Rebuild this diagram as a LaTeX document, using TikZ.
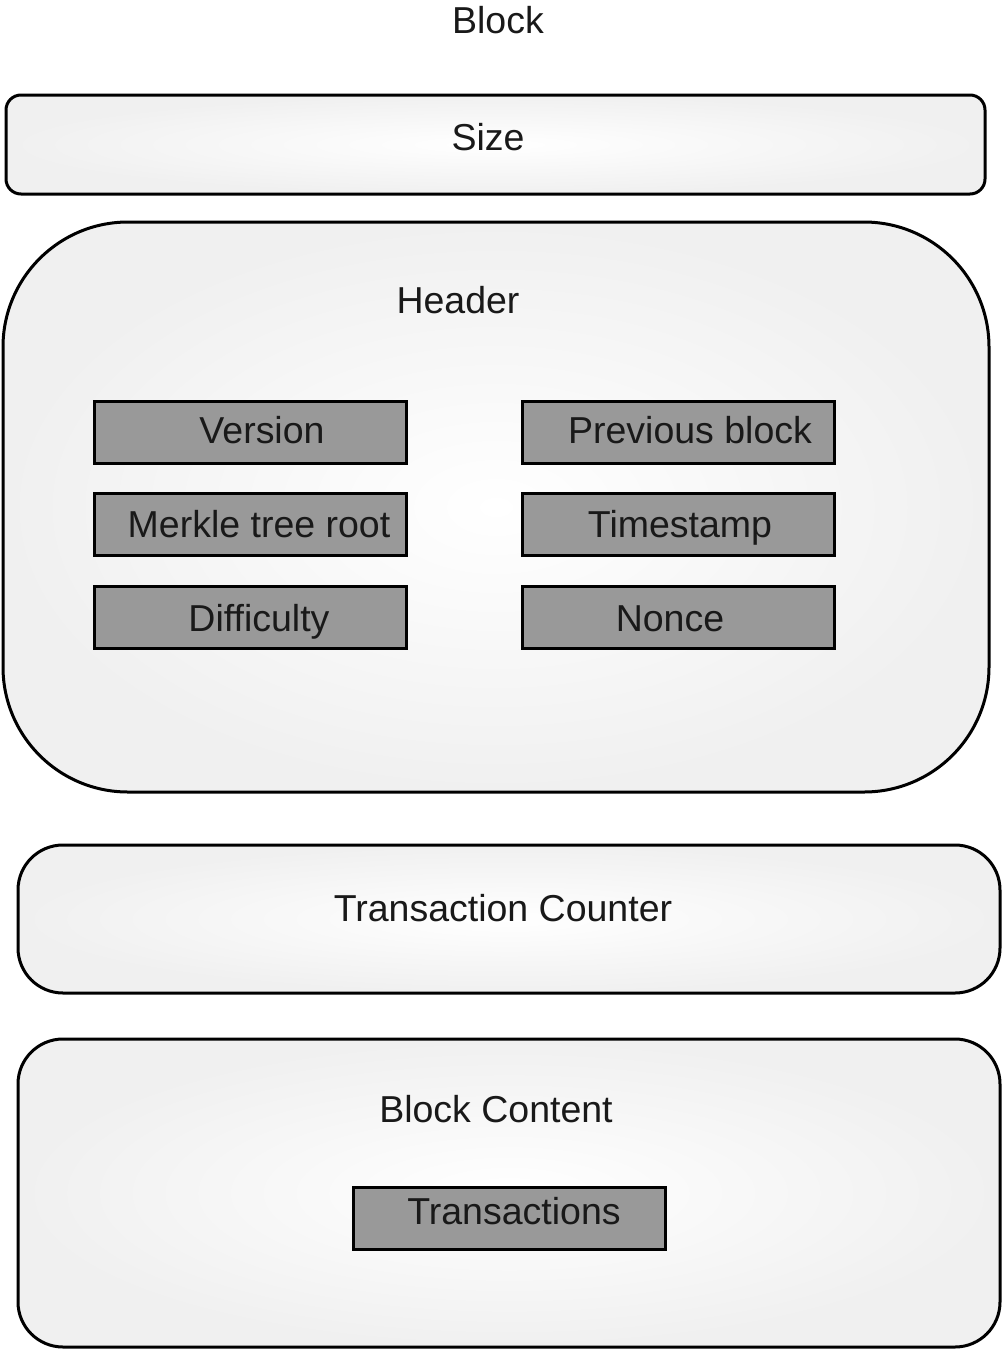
\documentclass[tikz,border=0pt]{standalone}
\usepackage{fontspec}
\setmainfont{Liberation Sans}
\definecolor{panel}{HTML}{F0F0F0}
\definecolor{field}{HTML}{999999}
\tikzset{
  outerbox/.style={draw=black, line width=3pt, shading=radial, inner color=white, outer color=panel, anchor=north west, inner sep=0pt, outer sep=0pt},
  fieldbox/.style={draw=black, line width=3pt, fill=field, anchor=north west, inner sep=0pt, outer sep=0pt, minimum width=312pt, minimum height=62pt},
  lbl/.style={anchor=base, inner sep=0pt, font=\fontsize{37.5}{45}\selectfont, text=black!90}
}
\begin{document}
\begin{tikzpicture}[x=1pt,y=-1pt]
\useasboundingbox (0,0) rectangle (1004,1350);
% outer panels
\node[outerbox, rounded corners=15pt, minimum width=979pt, minimum height=99pt] (size) at (6,95) {};
\node[outerbox, rounded corners=125pt, minimum width=986pt, minimum height=570pt] (header) at (3,222) {};
\node[outerbox, rounded corners=45pt, minimum width=982pt, minimum height=148pt] (counter) at (18,845) {};
\node[outerbox, rounded corners=45pt, minimum width=982pt, minimum height=308pt] (content) at (18,1039) {};
% field boxes
\node[fieldbox] (version) at (94,401) {};
\node[fieldbox] (merkle) at (94,493) {};
\node[fieldbox] (difficulty) at (94,586) {};
\node[fieldbox] (prev) at (522,401) {};
\node[fieldbox] (timestamp) at (522,493) {};
\node[fieldbox] (nonce) at (522,586) {};
\node[fieldbox] (tx) at (353,1187) {};
% labels
\node[lbl] (tblock) at (498,33) {Block};
\node[lbl] (tsize) at (488,150) {Size};
\node[lbl] (theader) at (458,313) {Header};
\node[lbl] (tversion) at (262,443) {Version};
\node[lbl] (tmerkle) at (259,537) {Merkle tree root};
\node[lbl] (tdiff) at (259,631) {Difficulty};
\node[lbl] (tprev) at (690,443) {Previous block};
\node[lbl] (ttime) at (680,537) {Timestamp};
\node[lbl] (tnonce) at (670,631) {Nonce};
\node[lbl] (tcounter) at (503,921) {Transaction Counter};
\node[lbl] (tcontent) at (496,1122) {Block Content};
\node[lbl] (ttx) at (514,1224) {Transactions};
\end{tikzpicture}
\end{document}
